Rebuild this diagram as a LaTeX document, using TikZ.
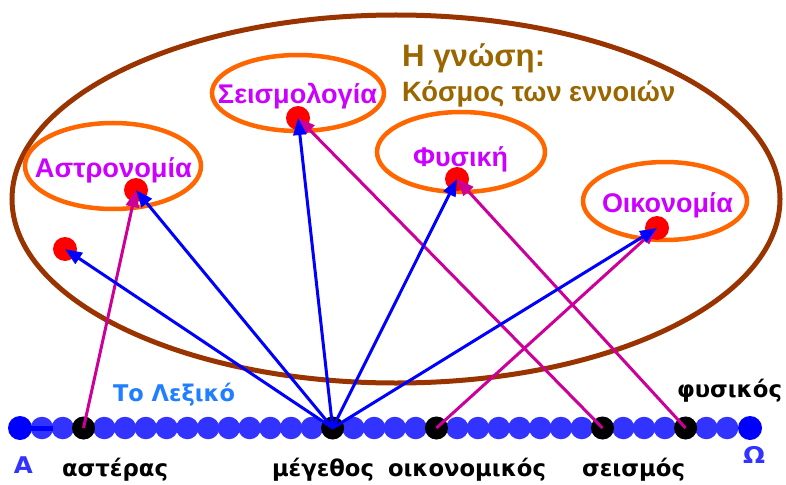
\documentclass[tikz,border=0pt]{standalone}
\usepackage{fontspec}
\usepackage{graphicx}
\setmainfont{DejaVu Sans}
\newfontfamily\arialfam{Liberation Sans}
\usetikzlibrary{arrows.meta}
\definecolor{chainblue}{HTML}{3333FF}
\definecolor{endblue}{HTML}{0000FF}
\definecolor{brownring}{HTML}{993300}
\definecolor{orangering}{HTML}{FF6600}
\definecolor{fieldtext}{HTML}{CC00FF}
\definecolor{titletext}{HTML}{996600}
\definecolor{lexblue}{HTML}{1F7FFF}
\definecolor{magarrow}{HTML}{CC0099}
\newcommand\fitto[2]{\resizebox{#1pt}{\height}{#2}}
\tikzset{
  chainc/.style={circle,fill=chainblue,minimum size=22.5pt,inner sep=0pt},
  endc/.style={circle,fill=endblue,minimum size=24pt,inner sep=0pt},
  wordc/.style={circle,fill=black,minimum size=23pt,inner sep=0pt},
  reddot/.style={circle,fill=red,minimum size=24pt,inner sep=0pt},
  ring/.style={draw=orangering,line width=4.5pt},
  fieldlabel/.style={text=fieldtext,anchor=base,inner sep=0pt,font=\arialfam\bfseries\fontsize{27}{30}\selectfont},
  titlelabel/.style={text=titletext,anchor=base west,inner sep=0pt},
  wordlabel/.style={text=black,anchor=base,inner sep=0pt,font=\bfseries\fontsize{23}{26}\selectfont},
  bluearrow/.style={draw=endblue,line width=3pt,-{Triangle[length=17pt,width=13pt]}},
  magentaarrow/.style={draw=magarrow,line width=3pt,-{Triangle[length=17pt,width=13pt]}},
}
\begin{document}
\begin{tikzpicture}[x=1pt,y=-1pt]
\useasboundingbox (0,0) rectangle (786,484);
% big ellipse
\draw[draw=brownring,line width=5pt] (396,199) ellipse [x radius=384, y radius=184];
\node[titlelabel,font=\arialfam\bfseries\fontsize{31}{34}\selectfont] (t1) at (402,66.5) {\fitto{143}{Η γνώση:}};
\node[titlelabel,font=\arialfam\bfseries\fontsize{28}{31}\selectfont] (t2) at (402,101.5) {\fitto{273}{Κόσμος των εννοιών}};
% field ellipses
\draw[ring] (298,93) ellipse [x radius=86, y radius=38];
\draw[ring] (113,166) ellipse [x radius=88, y radius=43];
\draw[ring] (461,152) ellipse [x radius=84, y radius=40];
\draw[ring] (665,201) ellipse [x radius=82, y radius=39];
\node[fieldlabel] (seis) at (297.5,104) {\fitto{159}{Σεισμολογία}};
\node[fieldlabel] (astr) at (113.5,177) {\fitto{157}{Αστρονομία}};
\node[fieldlabel] (fys) at (460.5,166) {\fitto{95}{Φυσική}};
\node[fieldlabel] (oik) at (667.5,212.5) {\fitto{131}{Οικονομία}};
% red dots
\node[reddot] (d0) at (65,249) {};
\node[reddot] (d1) at (136,190) {};
\node[reddot] (d2) at (298,118) {};
\node[reddot] (d3) at (457,179) {};
\node[reddot] (d4) at (657,228) {};
% chain
\foreach \k in {0,...,33} {\node[chainc] (c\k) at ({42+\k*20.76},428) {};}
\node[endc] (A) at (20,428) {};
\draw[draw=endblue,line width=5pt] (A.center) -- ([xshift=11pt]c0.center);
\node[endc] (O) at (750,428) {};
\node[wordc] (w1) at (c2) {};
\node[wordc] (w2) at (c14) {};
\node[wordc] (w3) at (c19) {};
\node[wordc] (w4) at (c27) {};
\node[wordc] (w5) at (c31) {};
% labels
\node[wordlabel,text=lexblue] (lex) at (174,401.5) {\fitto{122}{Το Λεξικό}};
\node[wordlabel,text=chainblue] (la) at (23.5,473) {\fitto{19}{Α}};
\node[wordlabel,text=chainblue] (lo) at (754,463) {\fitto{22}{Ω}};
\node[wordlabel] (l1) at (115,476.7) {\fitto{106}{αστέρας}};
\node[wordlabel] (l2) at (323,476.7) {\fitto{102}{μέγεθος}};
\node[wordlabel] (l3) at (467,476.7) {\fitto{158}{οικονομικός}};
\node[wordlabel] (l4) at (633.5,476.7) {\fitto{103}{σεισμός}};
\node[wordlabel] (l5) at (729.5,397) {\fitto{105}{φυσικός}};
% arrows
\draw[magentaarrow] (w1.center) -- (d1.center);
\draw[magentaarrow] (w3.center) -- (d4.center);
\draw[magentaarrow] (w4.center) -- (d2.center);
\draw[magentaarrow] (w5.center) -- (d3.center);
\draw[bluearrow] (w2.center) -- (d0.center);
\draw[bluearrow] (w2.center) -- (d1.center);
\draw[bluearrow] (w2.center) -- (d2.center);
\draw[bluearrow] (w2.center) -- (d3.center);
\draw[bluearrow] (w2.center) -- (d4.center);
\end{tikzpicture}
\end{document}
